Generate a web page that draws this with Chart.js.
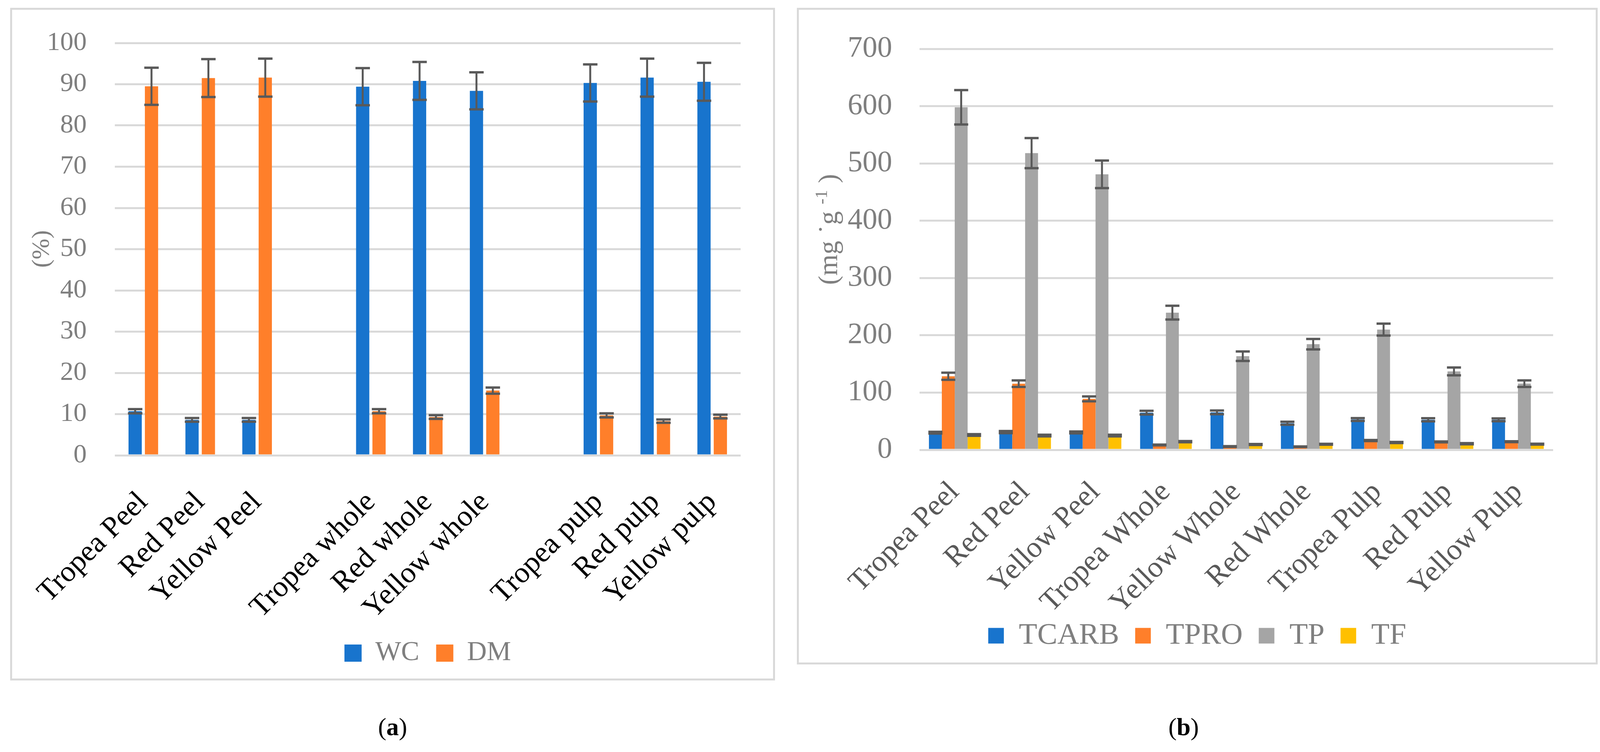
<!DOCTYPE html>
<html><head><meta charset="utf-8">
<script src="https://cdn.jsdelivr.net/npm/chart.js@4.4.1/dist/chart.umd.min.js"></script>
<style>
html,body{margin:0;padding:0;background:#fff;width:4110px;height:1924px;overflow:hidden;}
.panel{position:absolute;border:5px solid #d9d9d9;box-sizing:border-box;background:#fff;}
#pa{left:26px;top:20px;width:1958px;height:1721px;}
#pb{left:2040px;top:20px;width:2050px;height:1680px;}
.panel canvas{position:absolute;left:0;top:0;}
.cap{position:absolute;font-family:'Liberation Serif',serif;font-size:64px;color:#000;transform:translate(-50%,-50%);white-space:nowrap;}
</style></head>
<body>
<div class="panel" id="pa"><canvas id="ca" width="1948" height="1711"></canvas></div>
<div class="panel" id="pb"><canvas id="cb" width="2040" height="1670"></canvas></div>
<div class="cap" style="left:1005px;top:1860px;">(<b>a</b>)</div>
<div class="cap" style="left:3030px;top:1860px;">(<b>b</b>)</div>
<script>
// ---------- Data: panel (a) ----------
const catsA = ['Tropea Peel','Red Peel','Yellow Peel','','Tropea whole','Red whole','Yellow whole','','Tropea pulp','Red pulp','Yellow pulp'];
const wc    = [10.7, 8.6, 8.6, null, 89.4, 90.8, 88.4, null, 90.3, 91.6, 90.6];
const wcErr = [0.5, 0.45, 0.45, null, 4.5, 4.6, 4.5, null, 4.5, 4.6, 4.6];
const dm    = [89.5, 91.5, 91.6, null, 10.7, 9.3, 15.7, null, 9.7, 8.3, 9.4];
const dmErr = [4.5, 4.6, 4.6, null, 0.5, 0.45, 0.75, null, 0.5, 0.4, 0.45];

// ---------- Data: panel (b) ----------
const catsB = ['Tropea Peel','Red Peel','Yellow Peel','Tropea Whole','Yellow Whole','Red Whole','Tropea Pulp','Red Pulp','Yellow Pulp'];
const tcarb    = [30, 31, 30.5, 65, 65.5, 46.5, 53, 52.5, 52.5];
const tcarbErr = [1.6, 1.9, 1.6, 3.2, 3.2, 2.6, 2.5, 2.7, 2.5];
const tpro     = [128.5, 115.5, 89, 8.5, 5.8, 5.4, 16.3, 13.9, 14.2];
const tproErr  = [6.2, 5.7, 4.3, 0.7, 0.7, 0.5, 1, 0.8, 0.8];
const tp       = [598, 518, 481, 239.5, 163.5, 184.5, 210, 137, 115.6];
const tpErr    = [30, 26.3, 24, 12, 8.3, 9.1, 10.4, 6.8, 5.7];
const tf       = [26, 25, 25, 14.3, 9.4, 9.8, 12.9, 10.7, 10];
const tfErr    = [1.5, 1.5, 1.5, 1, 0.8, 0.7, 1, 1, 0.8];

const BLUE='#1874CD', ORANGE='#FF7F2A', GREY='#A5A5A5', YELLOW='#FFC000';
const TXT='#7f7f7f';

const errorBars = {
  id:'errorBars',
  afterDatasetsDraw(chart, args, opts){
    const ctx = chart.ctx, y = chart.scales.y;
    ctx.save();
    ctx.strokeStyle = '#595959';
    ctx.lineCap = 'butt';
    chart.data.datasets.forEach((ds, di) => {
      if (!ds.errors) return;
      const meta = chart.getDatasetMeta(di);
      meta.data.forEach((bar, i) => {
        const v = ds.data[i], e = ds.errors[i];
        if (v == null || e == null) return;
        const yt = y.getPixelForValue(v + e), yb = y.getPixelForValue(v - e);
        ctx.lineWidth = opts.stem;
        ctx.beginPath(); ctx.moveTo(bar.x, yt); ctx.lineTo(bar.x, yb); ctx.stroke();
        ctx.lineWidth = opts.cap;
        ctx.beginPath();
        ctx.moveTo(bar.x - opts.capW/2, yt); ctx.lineTo(bar.x + opts.capW/2, yt);
        ctx.moveTo(bar.x - opts.capW/2, yb); ctx.lineTo(bar.x + opts.capW/2, yb);
        ctx.stroke();
      });
    });
    ctx.restore();
  }
};

const yTitle = {
  id:'yTitle',
  afterDraw(chart, args, opts){
    if (!opts || !opts.parts) return;
    const ctx = chart.ctx;
    ctx.save();
    ctx.fillStyle = TXT;
    ctx.textBaseline = 'alphabetic';
    ctx.textAlign = 'left';
    let total = 0;
    opts.parts.forEach(p => { ctx.font = (p.size) + 'px "Liberation Serif"'; total += ctx.measureText(p.t).width; });
    ctx.translate(opts.x, opts.y);
    ctx.rotate(-Math.PI/2);
    let cx = -total/2;
    opts.parts.forEach(p => {
      ctx.font = (p.size) + 'px "Liberation Serif"';
      ctx.fillText(p.t, cx, opts.base + (p.rise || 0));
      cx += ctx.measureText(p.t).width;
    });
    ctx.restore();
  }
};

Chart.defaults.animation = false;
Chart.defaults.devicePixelRatio = 1;

function fixYPad(s){ s.paddingTop = 10; s.paddingBottom = 10; }
function noClip(s){ s._computeLabelArea = function(){ return undefined; }; }

new Chart(document.getElementById('ca'), {
  type:'bar',
  data:{ labels: catsA, datasets:[
    {label:'WC', data: wc, errors: wcErr, backgroundColor: BLUE},
    {label:'DM', data: dm, errors: dmErr, backgroundColor: ORANGE}
  ]},
  plugins:[errorBars, yTitle],
  options:{
    responsive:false,
    events:[],
    categoryPercentage:0.575,
    barPercentage:0.81,
    layout:{padding:{left:0,right:83,top:85,bottom:20}},
    scales:{
      x:{
        grid:{display:false}, border:{display:false},
        ticks:{color:'#000', font:{family:'Liberation Serif', size:76}, minRotation:45, maxRotation:45, autoSkip:false, padding:68},
        afterFit(s){ s.height = 428; noClip(s); }
      },
      y:{
        min:0, max:100,
        ticks:{stepSize:10, color:TXT, font:{family:'Liberation Serif', size:68}, padding:72},
        grid:{color:'#d9d9d9', lineWidth:5, drawTicks:false},
        border:{display:false},
        afterFit(s){ s.width = 257; fixYPad(s); }
      }
    },
    plugins:{
      legend:{position:'bottom', fullSize:false,
        labels:{boxWidth:44, boxHeight:44, padding:43, color:TXT, font:{family:'Liberation Serif', size:70}}},
      tooltip:{enabled:false},
      errorBars:{stem:5, cap:6, capW:37},
      yTitle:{x:72, y:612, base:22, parts:[{t:'(%)', size:64}]}
    }
  }
});

new Chart(document.getElementById('cb'), {
  type:'bar',
  data:{ labels: catsB, datasets:[
    {label:'TCARB', data: tcarb, errors: tcarbErr, backgroundColor: BLUE},
    {label:'TPRO', data: tpro, errors: tproErr, backgroundColor: ORANGE},
    {label:'TP', data: tp, errors: tpErr, backgroundColor: GREY},
    {label:'TF', data: tf, errors: tfErr, backgroundColor: YELLOW}
  ]},
  plugins:[errorBars, yTitle],
  options:{
    responsive:false,
    events:[],
    categoryPercentage:0.733,
    barPercentage:1.0,
    layout:{padding:{left:109,right:109,top:100,bottom:20}},
    scales:{
      x:{
        grid:{display:false}, border:{display:false},
        ticks:{color:'#595959', font:{family:'Liberation Serif', size:76}, minRotation:45, maxRotation:45, autoSkip:false, padding:56},
        afterFit(s){ s.height = 396; noClip(s); }
      },
      y:{
        min:0, max:700,
        ticks:{stepSize:100, color:TXT, font:{family:'Liberation Serif', size:76}, padding:70},
        grid:{color:'#d9d9d9', lineWidth:5, drawTicks:false},
        border:{display:false},
        afterFit(s){ s.width = 200; fixYPad(s); }
      }
    },
    plugins:{
      legend:{position:'bottom', fullSize:true,
        labels:{boxWidth:40, boxHeight:40, padding:41, color:TXT, font:{family:'Liberation Serif', size:77}}},
      tooltip:{enabled:false},
      errorBars:{stem:5, cap:6, capW:36},
      yTitle:{x:74, y:562, base:24, parts:[
        {t:'(mg ', size:70}, {t:'˙', size:70}, {t:'g ', size:70}, {t:'-1', size:44, rise:-26}, {t:' )', size:70}
      ]}
    }
  }
});
</script>
</body></html>
